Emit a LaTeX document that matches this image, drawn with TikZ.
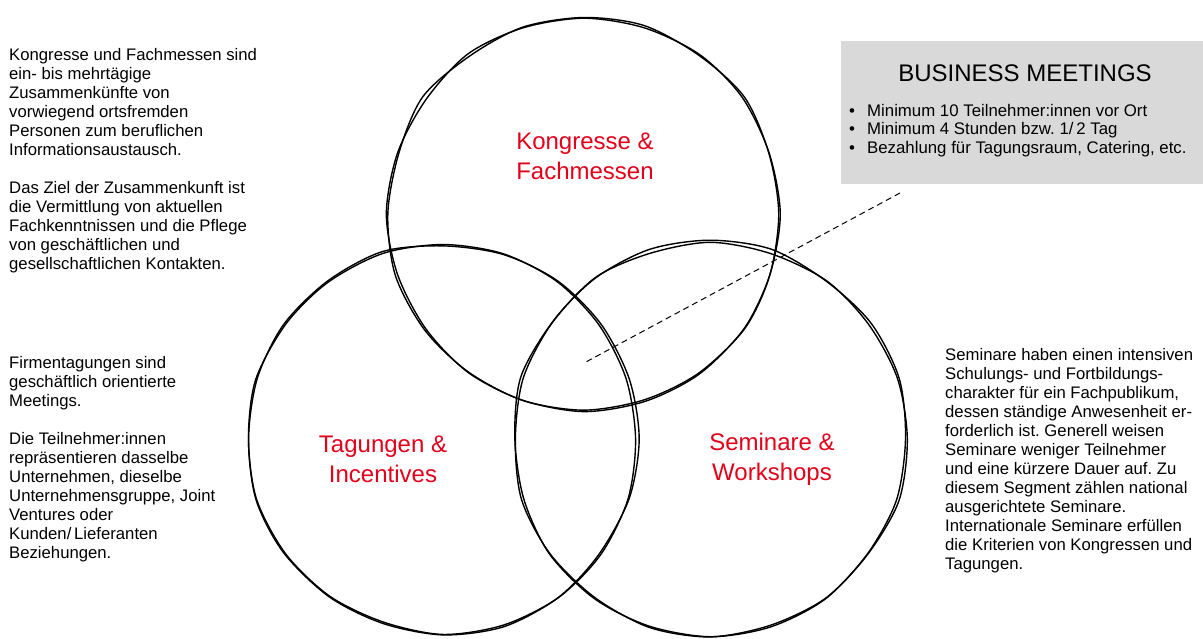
\documentclass[tikz,border=0pt]{standalone}
\usepackage{fontspec}
\setmainfont{Liberation Sans}
\frenchspacing
\definecolor{vennred}{RGB}{226,0,26}
\definecolor{boxgray}{RGB}{217,217,217}

\begin{document}
\begin{tikzpicture}[x=1pt,y=-1pt,
    infotext/.style={anchor=north west, align=left, inner sep=0pt, font=\fontsize{16.7}{19}\selectfont},
    venntitle/.style={align=center, text=vennred, inner sep=0pt, font=\fontsize{24}{30}\selectfont},
    sketch/.style={line width=1.4pt, line join=round},
    meetbox/.style={fill=boxgray, inner sep=0pt, anchor=north west, minimum width=362pt, minimum height=143pt}]
  \useasboundingbox (0,0) rectangle (1203,639);
  % circle centres
  \coordinate (kongress) at (584,214);
  \coordinate (tagung) at (443,439);
  \coordinate (seminar) at (710,439);
  % hand drawn circles, two strokes each
  \pgfmathsetseed{11}
  \foreach \c/\r in {kongress/197, tagung/195, seminar/197}{
    \foreach \pass in {1,2}{
      \draw[sketch, shift={(\c)}] plot[smooth cycle, samples=20, domain=0:342] (\x:{\r+5*rnd-2.5});
    }
  }
  \node[venntitle] (kongresslabel) at (585,156) {Kongresse \&\\Fachmessen};
  \node[venntitle] (tagunglabel) at (383,459) {Tagungen \&\\Incentives};
  \node[venntitle] (seminarlabel) at (772,459) {Seminare \&\\Workshops};

  % business meetings box
  \node[meetbox] (meet) at (841,41) {};
  \node[inner sep=0pt, font=\fontsize{24}{28}\selectfont] (meettitle) at (1025,73) {BUSINESS MEETINGS};
  \node[infotext, font=\fontsize{16.8}{18.5}\selectfont] (meetlist) at (849,104)
    {\makebox[18pt][l]{\textbullet}Minimum 10 Teilnehmer:innen vor Ort\\
     \makebox[18pt][l]{\textbullet}Minimum 4 Stunden bzw. 1/\,2 Tag\\
     \makebox[18pt][l]{\textbullet}Bezahlung für Tagungsraum, Catering, etc.};
  \coordinate (meettip) at (900,193);
  \coordinate (centre) at (584,363);
  \draw[dashed, line width=1pt, dash pattern=on 6pt off 4pt] (meettip) -- (centre);

  % side texts
  \node[infotext] (kongresstext) at (9,48)
    {Kongresse und Fachmessen sind\\ein- bis mehrtägige\\Zusammenkünfte von\\vorwiegend ortsfremden\\Personen zum beruflichen\\Informationsaustausch.\\[19pt]
     Das Ziel der Zusammenkunft ist\\die Vermittlung von aktuellen\\Fachkenntnissen und die Pflege\\von geschäftlichen und\\gesellschaftlichen Kontakten.};
  \node[infotext] (tagungtext) at (9,356)
    {Firmentagungen sind\\geschäftlich orientierte\\Meetings.\\[19pt]
     Die Teilnehmer:innen\\repräsentieren dasselbe\\Unternehmen, dieselbe\\Unternehmensgruppe, Joint\\Ventures oder\\Kunden/\,Lieferanten\\Beziehungen.};
  \node[infotext] (seminartext) at (945,348)
    {Seminare haben einen intensiven\\Schulungs- und Fortbildungs-\\charakter für ein Fachpublikum,\\dessen ständige Anwesenheit er-\\forderlich ist. Generell weisen\\Seminare weniger Teilnehmer\\und eine kürzere Dauer auf. Zu\\diesem Segment zählen national\\ausgerichtete Seminare.\\Internationale Seminare erfüllen\\die Kriterien von Kongressen und\\Tagungen.};
\end{tikzpicture}
\end{document}
